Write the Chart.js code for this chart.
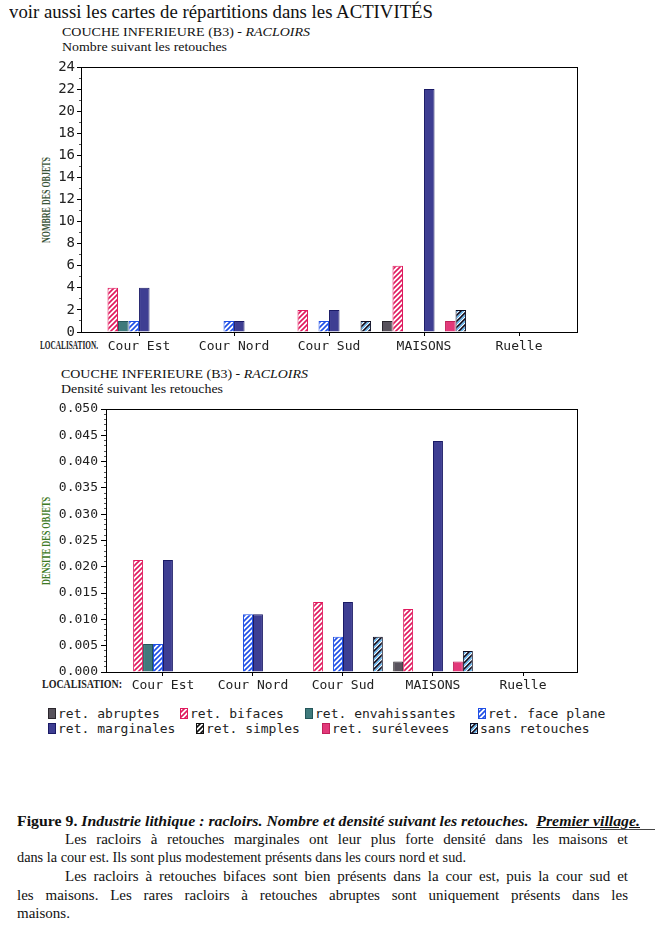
<!DOCTYPE html>
<html><head><meta charset="utf-8">
<script src="https://cdn.jsdelivr.net/npm/chart.js@4.4.0/dist/chart.umd.min.js"></script>
<style>
html,body{margin:0;padding:0;background:#fff;}
body{width:655px;height:935px;position:relative;overflow:hidden;}
.t{position:absolute;white-space:nowrap;transform-origin:0 50%;line-height:1;}
.serif{font-family:"Liberation Serif","Times New Roman",serif;color:#111;}
.cond{font-family:"Liberation Serif",serif;font-weight:bold;color:#222;}
canvas.chart{position:absolute;left:0;}
.leg{position:absolute;font-family:"DejaVu Sans Mono",monospace;font-size:13px;color:#222;white-space:nowrap;line-height:1;}
.leg canvas{vertical-align:-1px;margin-right:2px;}
.rot{position:absolute;white-space:nowrap;line-height:1;font-family:"Liberation Serif",serif;font-weight:bold;font-size:12px;transform-origin:50% 50%;}
</style>
</head>
<body>
<div class="t serif" id="head" style="left:9px;top:3px;font-size:18px;">voir aussi les cartes de répartitions dans les ACTIVITÉS</div>

<div class="t serif" id="t1a" style="left:62px;top:25px;font-size:13.5px;">COUCHE INFERIEURE (B3) - <i>RACLOIRS</i></div>
<div class="t serif" id="t1b" style="left:62px;top:40px;font-size:13.5px;">Nombre suivant les retouches</div>
<div class="rot" id="y1" style="left:46px;top:200px;color:#3a553a;">NOMBRE DES OBJETS</div>
<div class="t cond" id="l1" style="left:40px;top:339px;font-size:12.5px;">LOCALISATION.</div>
<canvas class="chart" id="c1" width="655" height="310" style="top:52px;width:655px;height:310px;"></canvas>

<div class="t serif" id="t2a" style="left:61px;top:367px;font-size:13.5px;">COUCHE INFERIEURE (B3) - <i>RACLOIRS</i></div>
<div class="t serif" id="t2b" style="left:61px;top:382px;font-size:13.5px;">Densité suivant les retouches</div>
<div class="rot" id="y2" style="left:46px;top:541px;color:#3d7a25;">DENSITE DES OBJETS</div>
<div class="t cond" id="l2" style="left:42px;top:678px;font-size:12.5px;">LOCALISATION:</div>
<canvas class="chart" id="c2" width="655" height="305" style="top:395px;width:655px;height:305px;"></canvas>

<div id="legend"></div>

<div class="t serif" id="cap" style="left:17px;top:814px;font-size:15px;font-weight:bold;">Figure 9. <i>Industrie lithique : racloirs. Nombre et densité suivant les retouches.</i>&nbsp; <i style="text-decoration:underline;">Premier village.</i></div>
<div style="position:absolute;left:600px;top:829px;width:55px;border-top:1px solid #444;"></div>
<div class="t serif p" data-w="563" data-j="1" style="left:65px;top:832px;font-size:15px;">Les racloirs à retouches marginales ont leur plus forte densité dans les maisons et</div>
<div class="t serif p" data-w="449" data-j="0" style="left:17px;top:850px;font-size:15px;">dans la cour est. Ils sont plus modestement présents dans les cours nord et sud.</div>
<div class="t serif p" data-w="563" data-j="1" style="left:65px;top:869px;font-size:15px;">Les racloirs à retouches bifaces sont bien présents dans la cour est, puis la cour sud et</div>
<div class="t serif p" data-w="611" data-j="1" style="left:17px;top:888px;font-size:15px;">les maisons. Les rares racloirs à retouches abruptes sont uniquement présents dans les</div>
<div class="t serif p" data-w="0" data-j="0" style="left:17px;top:906px;font-size:15px;">maisons.</div>

<script>
// ---------------- DATA ----------------
const categories = ['Cour Est', 'Cour Nord', 'Cour Sud', 'MAISONS', 'Ruelle'];
const categoryPositions = [1, 2, 3, 4, 5];
const seriesNames = ['ret. abruptes', 'ret. bifaces', 'ret. envahissantes', 'ret. face plane',
                     'ret. marginales', 'ret. simples', 'ret. surélevees', 'sans retouches'];

// Nombre des objets
const countAbruptes      = [0, 0, 0, 1, 0];
const countBifaces       = [4, 0, 2, 6, 0];
const countEnvahissantes = [1, 0, 0, 0, 0];
const countFacePlane     = [1, 1, 1, 0, 0];
const countMarginales    = [4, 1, 2, 22, 0];
const countSimples       = [0, 0, 0, 0, 0];
const countSurelevees    = [0, 0, 0, 1, 0];
const countSansRetouches = [0, 0, 1, 2, 0];

// Densité des objets
const densAbruptes      = [0, 0, 0, 0.002, 0];
const densBifaces       = [0.0213, 0, 0.0133, 0.012, 0];
const densEnvahissantes = [0.0053, 0, 0, 0, 0];
const densFacePlane     = [0.0053, 0.011, 0.0067, 0, 0];
const densMarginales    = [0.0213, 0.011, 0.0133, 0.0439, 0];
const densSimples       = [0, 0, 0, 0, 0];
const densSurelevees    = [0, 0, 0, 0.002, 0];
const densSansRetouches = [0, 0, 0.0067, 0.004, 0];

const countSeries = [countAbruptes, countBifaces, countEnvahissantes, countFacePlane,
                     countMarginales, countSimples, countSurelevees, countSansRetouches];
const densSeries = [densAbruptes, densBifaces, densEnvahissantes, densFacePlane,
                    densMarginales, densSimples, densSurelevees, densSansRetouches];

// ---------------- STYLES ----------------
function hatch(color, color2) {
  const s = color2 ? 6 : 5;
  const c = document.createElement('canvas');
  c.width = s; c.height = s;
  const g = c.getContext('2d');
  g.fillStyle = '#fff'; g.fillRect(0, 0, s, s);
  function diag(off, col, lw) {
    g.strokeStyle = col; g.lineWidth = lw;
    g.beginPath();
    for (let k = -2; k <= 2; k++) {
      const o = k * s + off;
      g.moveTo(o - 1, s + 1); g.lineTo(o + s + 1, -1);
    }
    g.stroke();
  }
  diag(0, color, 1.6);
  if (color2) diag(2.5, color2, 1.1);
  return g.createPattern(c, 'repeat');
}
const fills = [
  '#58525c',
  hatch('#e01a5e'),
  '#3f7a7c',
  hatch('#1f4fe6'),
  '#3e3e92',
  hatch('#111111'),
  '#e2397a',
  hatch('#0b0b20', '#3aa0e8')
];
const borders = ['#2a262c', '#e01a5e', '#24565a', '#1f4fe6', '#1a1a66', '#111', '#c0205a', '#0b0b20'];

// ---------------- PLUGINS ----------------
const framePlugin = {
  id: 'frame',
  afterDatasetsDraw(chart) {
    const { ctx, chartArea: a } = chart;
    ctx.save();
    ctx.strokeStyle = '#000';
    ctx.lineWidth = 1;
    ctx.strokeRect(Math.round(a.left) + 0.5, Math.round(a.top) + 0.5,
                   Math.round(a.right - a.left) - 1, Math.round(a.bottom - a.top));
    ctx.restore();
  }
};

function buildDatasets(series) {
  return series.map((vals, i) => ({
    label: seriesNames[i],
    data: vals,
    backgroundColor: fills[i],
    borderColor: borders[i],
    borderWidth: 1,
    borderSkipped: 'start',
    categoryPercentage: 0.885,
    barPercentage: 1
  }));
}

function makeChart(id, series, o) {
  return new Chart(document.getElementById(id), {
    type: 'bar',
    data: { labels: categoryPositions, datasets: buildDatasets(series) },
    plugins: [framePlugin],
    options: {
      responsive: false,
      animation: false,
      devicePixelRatio: 1,
      layout: { padding: o.padding },
      plugins: { legend: { display: false }, tooltip: { enabled: false } },
      scales: {
        x: {
          type: 'linear',
          offset: false,
          min: o.xmin, max: o.xmax,
          bounds: 'data',
          afterBuildTicks: (s) => { s.ticks = categoryPositions.map(v => ({ value: v })); },
          afterFit: (s) => { s.height = o.xh; },
          border: { display: false },
          grid: { offset: false, drawOnChartArea: false, drawTicks: true, tickLength: 4, tickColor: '#000', tickWidth: 1 },
          ticks: {
            autoSkip: false, maxRotation: 0, padding: o.xpad,
            font: { family: 'DejaVu Sans Mono', size: 13 }, color: '#222',
            callback: (v) => categories[Math.round(v) - 1] || ''
          }
        },
        y: {
          min: 0, max: o.ymax,
          afterFit: (s) => { s.width = o.yw; },
          border: { display: false },
          grid: {
            drawOnChartArea: false, drawTicks: true, tickLength: o.tl,
            tickColor: (c) => o.isMajor(c.tick && c.tick.value) ? '#000' : '#555',
            tickBorderDash: (c) => o.isMajor(c.tick && c.tick.value) ? [] : [0, o.tl - 2, 2, 30]
          },
          ticks: {
            autoSkip: false, stepSize: o.step, padding: o.ypad,
            font: { family: 'DejaVu Sans Mono', size: o.yfont }, color: '#222',
            callback: (v) => o.isMajor(v) ? o.fmt(v) : ''
          }
        }
      }
    }
  });
}

makeChart('c1', countSeries, {
  padding: { left: 41, right: 77, top: 15, bottom: 6 },
  xmin: 0.389, xmax: 5.621, xh: 24, xpad: 3,
  ymax: 24, yw: 40, tl: 4, ypad: 2, step: 1, yfont: 14,
  isMajor: (v) => Math.round(v) % 2 === 0,
  fmt: (v) => String(Math.round(v))
});

makeChart('c2', densSeries, {
  padding: { left: 56, right: 77, top: 14, bottom: 8 },
  xmin: 0.367, xmax: 5.611, xh: 20, xpad: 2,
  ymax: 0.05, yw: 50, tl: 5, ypad: 3, step: 0.001, yfont: 13,
  isMajor: (v) => Math.round(v * 1000) % 5 === 0,
  fmt: (v) => v.toFixed(3)
});

// ---------------- LEGEND ----------------
const legendPos = [[48, 707], [180, 707], [305, 707], [478, 707],
                   [48, 722], [196, 722], [322, 722], [470, 722]];
const legendEl = document.getElementById('legend');
seriesNames.forEach((name, i) => {
  const d = document.createElement('div');
  d.className = 'leg';
  d.style.left = legendPos[i][0] + 'px';
  d.style.top = legendPos[i][1] + 'px';
  const sw = document.createElement('canvas');
  sw.width = 8; sw.height = 11;
  const g = sw.getContext('2d');
  g.fillStyle = fills[i]; g.fillRect(0, 0, 8, 11);
  g.strokeStyle = borders[i]; g.lineWidth = 1; g.strokeRect(0.5, 0.5, 7, 10);
  d.appendChild(sw);
  d.appendChild(document.createTextNode(name));
  legendEl.appendChild(d);
});

// ---------------- TEXT FITTING ----------------
function fit(id, w) {
  const el = document.getElementById(id);
  const nat = el.getBoundingClientRect().width;
  el.style.transform = 'scaleX(' + (w / nat) + ')';
}
fit('head', 424);
fit('t1a', 248); fit('t1b', 165);
fit('t2a', 247); fit('t2b', 162);
fit('l1', 58); fit('l2', 80);
fit('cap', 623);
function fitRot(id, len) {
  const el = document.getElementById(id);
  const nat = el.getBoundingClientRect().width;
  el.style.transform = 'translate(-50%,-50%) rotate(-90deg) scaleX(' + (len / nat) + ')';
}
fitRot('y1', 86); fitRot('y2', 88);
document.querySelectorAll('.p').forEach(el => {
  const w = +el.dataset.w;
  if (!w) return;
  const nat = el.getBoundingClientRect().width;
  if (nat > w) {
    el.style.transform = 'scaleX(' + (w / nat) + ')';
  } else if (el.dataset.j === '1') {
    el.style.width = w + 'px';
    el.style.textAlign = 'justify';
    el.style.textAlignLast = 'justify';
  }
});
</script>
</body></html>
